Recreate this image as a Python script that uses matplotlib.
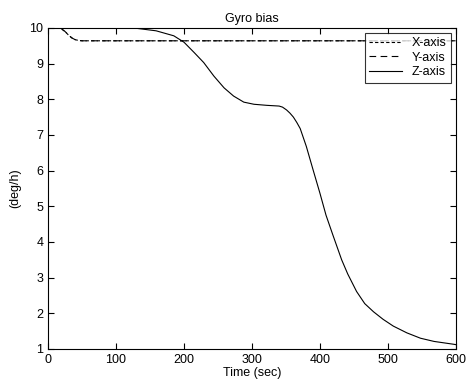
import numpy as np
import matplotlib.pyplot as plt

plt.rcParams['font.family'] = ['Liberation Sans', 'DejaVu Sans']

# time points and bias estimates (deg/h)
t_xy = [20, 25, 30, 35, 40, 45, 50, 100, 200, 300, 400, 500, 600]
bias_x = [9.97, 9.9, 9.8, 9.72, 9.67, 9.65, 9.64, 9.64, 9.64, 9.64, 9.64, 9.64, 9.64]
bias_y = [9.97, 9.9, 9.8, 9.72, 9.67, 9.65, 9.64, 9.64, 9.64, 9.64, 9.64, 9.64, 9.64]

t_z = [20, 100, 130, 159, 185, 200, 215, 229, 244, 259, 273, 288, 303, 322,
       340, 345, 351, 356, 361, 366, 371, 380, 390, 400, 409, 419, 432, 441,
       454, 466, 479, 493, 508, 528, 548, 568, 597, 600]
bias_z = [10.0, 10.0, 9.99, 9.92, 9.78, 9.6, 9.31, 9.03, 8.65, 8.32, 8.09, 7.92, 7.86, 7.83,
          7.81, 7.78, 7.70, 7.61, 7.50, 7.35, 7.18, 6.68, 6.02, 5.37, 4.75, 4.2, 3.5, 3.1,
          2.61, 2.27, 2.04, 1.83, 1.64, 1.45, 1.30, 1.21, 1.13, 1.12]

fig = plt.figure(figsize=(4.67, 3.83), dpi=100)
ax = fig.add_axes([0.103, 0.089, 0.873, 0.838])

ax.plot(t_xy, bias_x, color='black', lw=0.8, dashes=(3, 2), label='X-axis')
ax.plot(t_xy, bias_y, color='black', lw=0.8, dashes=(6, 4), label='Y-axis')
ax.plot(t_z, bias_z, color='black', lw=0.8, label='Z-axis')

ax.set_xlim(0, 600)
ax.set_ylim(1, 10)
ax.set_xticks(np.arange(0, 601, 100))
ax.set_yticks(np.arange(1, 11, 1))
ax.tick_params(direction='in', top=True, right=True, labelsize=9, length=4, width=0.8)
for s in ax.spines.values():
    s.set_linewidth(0.8)

ax.set_title('Gyro bias', fontsize=9, pad=4)
ax.set_xlabel('Time (sec)', fontsize=9, labelpad=1)
ax.set_ylabel('(deg/h)', fontsize=9, labelpad=6)

leg = ax.legend(loc='upper right', fontsize=9, frameon=True, fancybox=False,
                edgecolor='black', handlelength=2.6, handletextpad=0.8,
                borderpad=0.35, labelspacing=0.2, borderaxespad=0.4)
leg.get_frame().set_linewidth(0.8)

fig.savefig('out.png', dpi=100)
